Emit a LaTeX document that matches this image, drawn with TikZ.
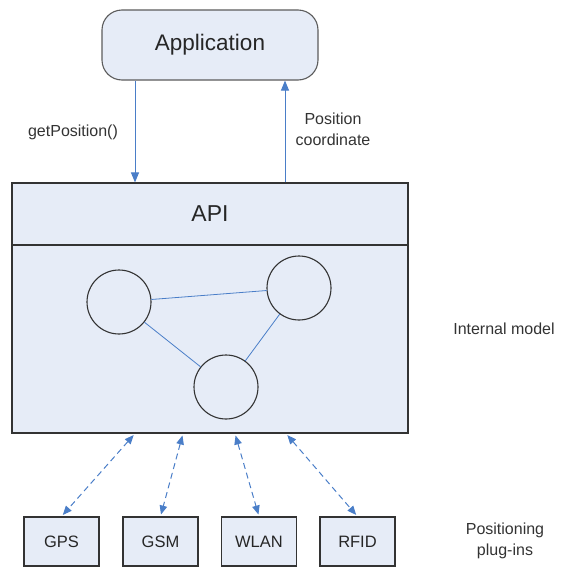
\documentclass[tikz,border=0pt]{standalone}
\usepackage{fontspec}
\setmainfont{Liberation Sans}
\usetikzlibrary{arrows.meta}

\definecolor{boxfill}{HTML}{E6ECF7}
\definecolor{linkblue}{HTML}{4A7EC8}
\definecolor{edgegrey}{HTML}{333333}

\begin{document}
\begin{tikzpicture}[x=1pt,y=-1pt] \tikzset{% styles for boxes, circles and links
        appbox/.style={rectangle,rounded corners=20pt,minimum width=216pt,minimum height=70pt,fill=boxfill,draw=edgegrey!80,line width=1.1pt,font=\fontsize{22.5}{26}\selectfont,text=black!85},
        layer/.style={rectangle,minimum width=396pt,fill=boxfill,draw=edgegrey,line width=1.1pt,text=black!85},
        state/.style={circle,minimum size=64pt,draw=edgegrey,line width=1.1pt},
        plugin/.style={rectangle,minimum width=75pt,minimum height=49pt,fill=boxfill,draw=edgegrey,line width=1.1pt,font=\fontsize{16.5}{19}\selectfont,text=black!85},
        lbl/.style={font=\fontsize{16}{21}\selectfont,text=black!80,align=center},
        call/.style={-{Triangle[length=10pt,width=8pt]},linkblue,line width=1pt},
        link/.style={-,linkblue,line width=0.8pt},
        probe/.style={{Triangle[length=9pt,width=7.5pt]}-{Triangle[length=9pt,width=7.5pt]},linkblue,line width=1pt,dash pattern=on 6pt off 4pt,shorten <=2pt,shorten >=2pt},
        }
        \useasboundingbox (0,0) rectangle (560,568);
        % Nodes
        \node[appbox] (app) at (210,45) {Application};
        \node[layer,minimum height=62pt,font=\fontsize{23}{26}\selectfont] (api) at (210,214) {API};
        \node[layer,minimum height=188pt] (model) at (210,339) {};
        \node[state] (s1) at (119,302) {}; \node[state] (s2) at (299,288) {}; \node[state] (s3) at
        (226,387) {};
        \node[plugin] (gps) at (61.5,541.5) {GPS}; \node[plugin] (gsm) at (160.5,541.5) {GSM};
        \node[plugin] (wlan) at (259,541.5) {WLAN}; \node[plugin] (rfid) at (357.5,541.5) {RFID};
        % Labels
        \node[lbl] (get) at (73,132) {getPosition()};
        \node[lbl] (coord) at (333,129) {Position\\coordinate};
        \node[lbl] (internal) at (504,329) {Internal model};
        \node[lbl] (plugins) at (505,541) {Positioning\\plug-ins};
        % Edges
        \draw[call] (135,0 |- app.south) -- (135,0 |- api.north);
        \draw[call] (285,0 |- api.north) -- (285,0 |- app.south);
        \draw[link] (s1) -- (s2); \draw[link] (s1) -- (s3); \draw[link] (s2) -- (s3);
        \draw[probe] (135,0 |- model.south) -- (gps.north);
        \draw[probe] (183,0 |- model.south) -- (gsm.north);
        \draw[probe] (235,0 |- model.south) -- (wlan.north);
        \draw[probe] (286,0 |- model.south) -- (rfid.north);
\end{tikzpicture}
\end{document}
